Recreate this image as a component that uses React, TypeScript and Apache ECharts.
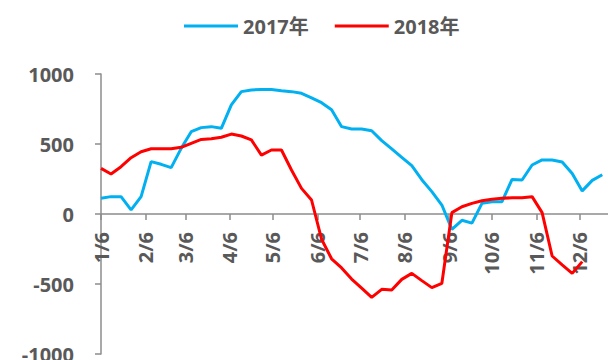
import React, { useEffect, useRef } from "react";
import * as echarts from "echarts";

const monthLabels = ["1/6", "2/6", "3/6", "4/6", "5/6", "6/6", "7/6", "8/6", "9/6", "10/6", "11/6", "12/6"];
const seriesNames = ["2017年", "2018年"];
const yTicks = { min: -1000, max: 1000, interval: 500 };

// weekly values, first point on 1/6
const values2017 = [
  112, 124, 124, 29, 124, 374, 355, 331, 469, 588,
  617, 624, 612, 780, 874, 886, 890, 890, 881, 874,
  862, 830, 795, 745, 624, 607, 607, 595, 524, 465,
  405, 345, 245, 160, 64, -110, -45, -65, 76, 88,
  88, 247, 243, 350, 386, 386, 372, 290, 165, 240,
  280,
];
const values2018 = [
  326, 286, 338, 402, 445, 466, 466, 466, 476, 505,
  533, 538, 548, 571, 557, 529, 421, 457, 457, 314,
  183, 100, -180, -320, -385, -465, -530, -595, -538, -543,
  -467, -424, -476, -526, -495, 10, 52, 76, 95, 105,
  112, 116, 116, 124, 10, -300, -364, -424, -340,
];

const DAYS = 355;
const categories: string[] = [];
for (let d = 0; d < DAYS; d++) {
  const dt = new Date(2018, 0, 6 + d);
  categories.push(`${dt.getMonth() + 1}/${dt.getDate()}`);
}
const weekly = (arr: number[]) => arr.map((v, i) => [i * 7, v]);

const TEXT = "#595959";
const AXIS = "#8c8c8c";
const FONT = '"Noto Sans", "Noto Sans CJK SC", sans-serif';
const GRID_TOP = 74;
const GRID_BOTTOM = 6;
const CHART_H = 360;

export default function App() {
  const ref = useRef<HTMLDivElement>(null);
  useEffect(() => {
    if (!ref.current) return;
    const chart = echarts.init(ref.current, undefined, { renderer: "svg" });
    const isMonth = (_i: number, v: string) => monthLabels.includes(v);
    // place the category axis on the zero line (middle of the symmetric value range)
    const zeroOffset = -(CHART_H - GRID_TOP - GRID_BOTTOM) * (0 - yTicks.min) / (yTicks.max - yTicks.min);
    chart.setOption({
      animation: false,
      textStyle: { fontFamily: FONT },
      legend: {
        left: 179,
        top: 11,
        icon: "rect",
        itemWidth: 54,
        itemHeight: 3,
        itemGap: 26,
        textStyle: { color: TEXT, fontSize: 20, fontWeight: "bold", fontFamily: FONT },
        data: seriesNames,
      },
      grid: { left: 101, right: 0, top: GRID_TOP, bottom: GRID_BOTTOM, containLabel: false, outerBoundsMode: "none" },
      xAxis: {
        type: "category",
        data: categories,
        boundaryGap: false,
        position: "bottom",
        offset: zeroOffset,
        axisLine: { onZero: false, lineStyle: { color: AXIS, width: 1.5 } },
        axisTick: { show: true, interval: isMonth, length: 6, lineStyle: { color: AXIS, width: 1.5 } },
        axisLabel: {
          interval: isMonth,
          rotate: 90,
          margin: 18,
          color: TEXT,
          fontSize: 20,
          fontWeight: "bold",
          fontFamily: FONT,
        },
        splitLine: { show: false },
      },
      yAxis: {
        type: "value",
        min: yTicks.min,
        max: yTicks.max,
        interval: yTicks.interval,
        axisLine: { show: true, lineStyle: { color: AXIS, width: 1.5 } },
        axisTick: { show: true, length: 6, lineStyle: { color: AXIS, width: 1.5 } },
        axisLabel: {
          margin: 27,
          color: TEXT,
          fontSize: 20,
          fontWeight: "bold",
          fontFamily: FONT,
          formatter: (v: number) => String(v),
        },
        splitLine: { show: false },
      },
      series: [
        {
          name: seriesNames[0],
          type: "line",
          data: weekly(values2017),
          symbol: "none",
          lineStyle: { color: "#00B0F0", width: 3 },
          itemStyle: { color: "#00B0F0" },
        },
        {
          name: seriesNames[1],
          type: "line",
          data: weekly(values2018),
          symbol: "none",
          lineStyle: { color: "#FF0000", width: 3 },
          itemStyle: { color: "#FF0000" },
        },
      ],
    });
    return () => chart.dispose();
  }, []);
  return (
    <div
      ref={ref}
      style={{ position: "fixed", left: 0, top: 0, width: 608, height: 360, background: "#fff" }}
    />
  );
}
